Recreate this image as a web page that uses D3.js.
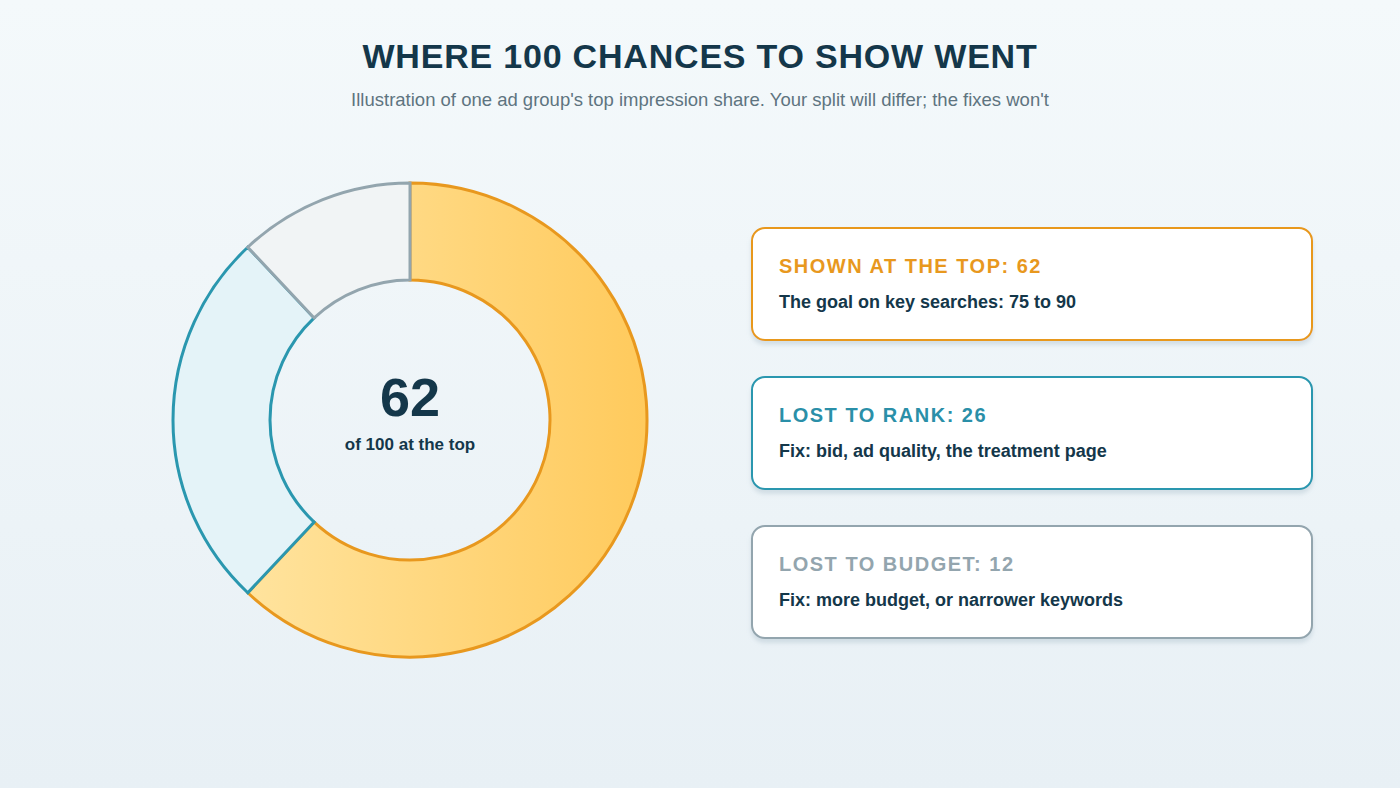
<!DOCTYPE html>
<html><head><meta charset="utf-8">
<script src="https://cdn.jsdelivr.net/npm/d3@7"></script>
<style>
body{margin:0;font-family:"Liberation Sans",Arial,sans-serif;}
</style></head>
<body><svg id="chart" width="1400" height="788"></svg>
<script>
const labels = ["SHOWN AT THE TOP", "LOST TO RANK", "LOST TO BUDGET"];
const values = [62, 26, 12];
const notes = ["The goal on key searches: 75 to 90", "Fix: bid, ad quality, the treatment page", "Fix: more budget, or narrower keywords"];
const strokes = ["#E8981E", "#2A97AF", "#93A5AE"];
const fills = ["url(#gold)", "#E4F3F8", "#F1F4F5"];

const svg = d3.select("#chart");
const defs = svg.append("defs");
const bg = defs.append("linearGradient").attr("id", "bg").attr("x1", 0).attr("y1", 0).attr("x2", 0).attr("y2", 1);
bg.append("stop").attr("offset", 0).attr("stop-color", "#F4F9FB");
bg.append("stop").attr("offset", 1).attr("stop-color", "#E8F0F5");
// gradient in the donut group's local coordinates
const gold = defs.append("linearGradient").attr("id", "gold").attr("gradientUnits", "userSpaceOnUse")
  .attr("x1", -237).attr("x2", 237).attr("y1", 0).attr("y2", 0);
gold.append("stop").attr("offset", 0).attr("stop-color", "#FFE8AA");
gold.append("stop").attr("offset", 1).attr("stop-color", "#FFCA5C");
const sh = defs.append("filter").attr("id", "sh").attr("x", "-10%").attr("y", "-10%").attr("width", "120%").attr("height", "130%");
sh.append("feDropShadow").attr("dx", 0).attr("dy", 4).attr("stdDeviation", 2).attr("flood-color", "#9fb5c2").attr("flood-opacity", 0.35);

svg.append("rect").attr("width", 1400).attr("height", 788).attr("fill", "url(#bg)");

svg.append("text").attr("x", 700).attr("y", 68).attr("text-anchor", "middle")
  .attr("font-size", 34).attr("font-weight", 700).attr("letter-spacing", 0.8).attr("fill", "#14374A")
  .text("WHERE 100 CHANCES TO SHOW WENT");
svg.append("text").attr("x", 700).attr("y", 106).attr("text-anchor", "middle")
  .attr("font-size", 18.5).attr("fill", "#5E7480")
  .text("Illustration of one ad group's top impression share. Your split will differ; the fixes won't");

// donut
const cx = 410, cy = 420;
const pie = d3.pie().sort(null).value(d => d)(values);
const arc = d3.arc().innerRadius(140).outerRadius(237);
const g = svg.append("g").attr("transform", `translate(${cx},${cy})`);
g.selectAll("path").data(pie).join("path")
  .attr("d", arc)
  .attr("fill", (d, i) => fills[i])
  .attr("stroke", (d, i) => strokes[i])
  .attr("stroke-width", 3);
g.append("text").attr("y", -4).attr("text-anchor", "middle").attr("font-size", 54).attr("font-weight", 700)
  .attr("fill", "#14374A").text(values[0]);
g.append("text").attr("y", 30).attr("text-anchor", "middle").attr("font-size", 17).attr("font-weight", 700)
  .attr("fill", "#14374A").text("of 100 at the top");

// cards
const y = d3.scaleBand().domain(labels).range([228, 638]).paddingInner(0.248);
const cards = svg.selectAll(".card").data(labels).join("g")
  .attr("transform", d => `translate(752,${y(d)})`);
cards.append("rect").attr("width", 560).attr("height", y.bandwidth()).attr("rx", 13)
  .attr("fill", "#fff").attr("stroke", (d, i) => strokes[i]).attr("stroke-width", 2).attr("filter", "url(#sh)");
cards.append("text").attr("x", 27).attr("y", 45).attr("font-size", 20).attr("font-weight", 700)
  .attr("letter-spacing", 1.5).attr("fill", (d, i) => strokes[i] === "#2A97AF" ? "#2A8FA8" : strokes[i])
  .text((d, i) => `${d}: ${values[i]}`);
cards.append("text").attr("x", 27).attr("y", 80).attr("font-size", 18).attr("font-weight", 700)
  .attr("fill", "#14374A").text((d, i) => notes[i]);
</script></body></html>
